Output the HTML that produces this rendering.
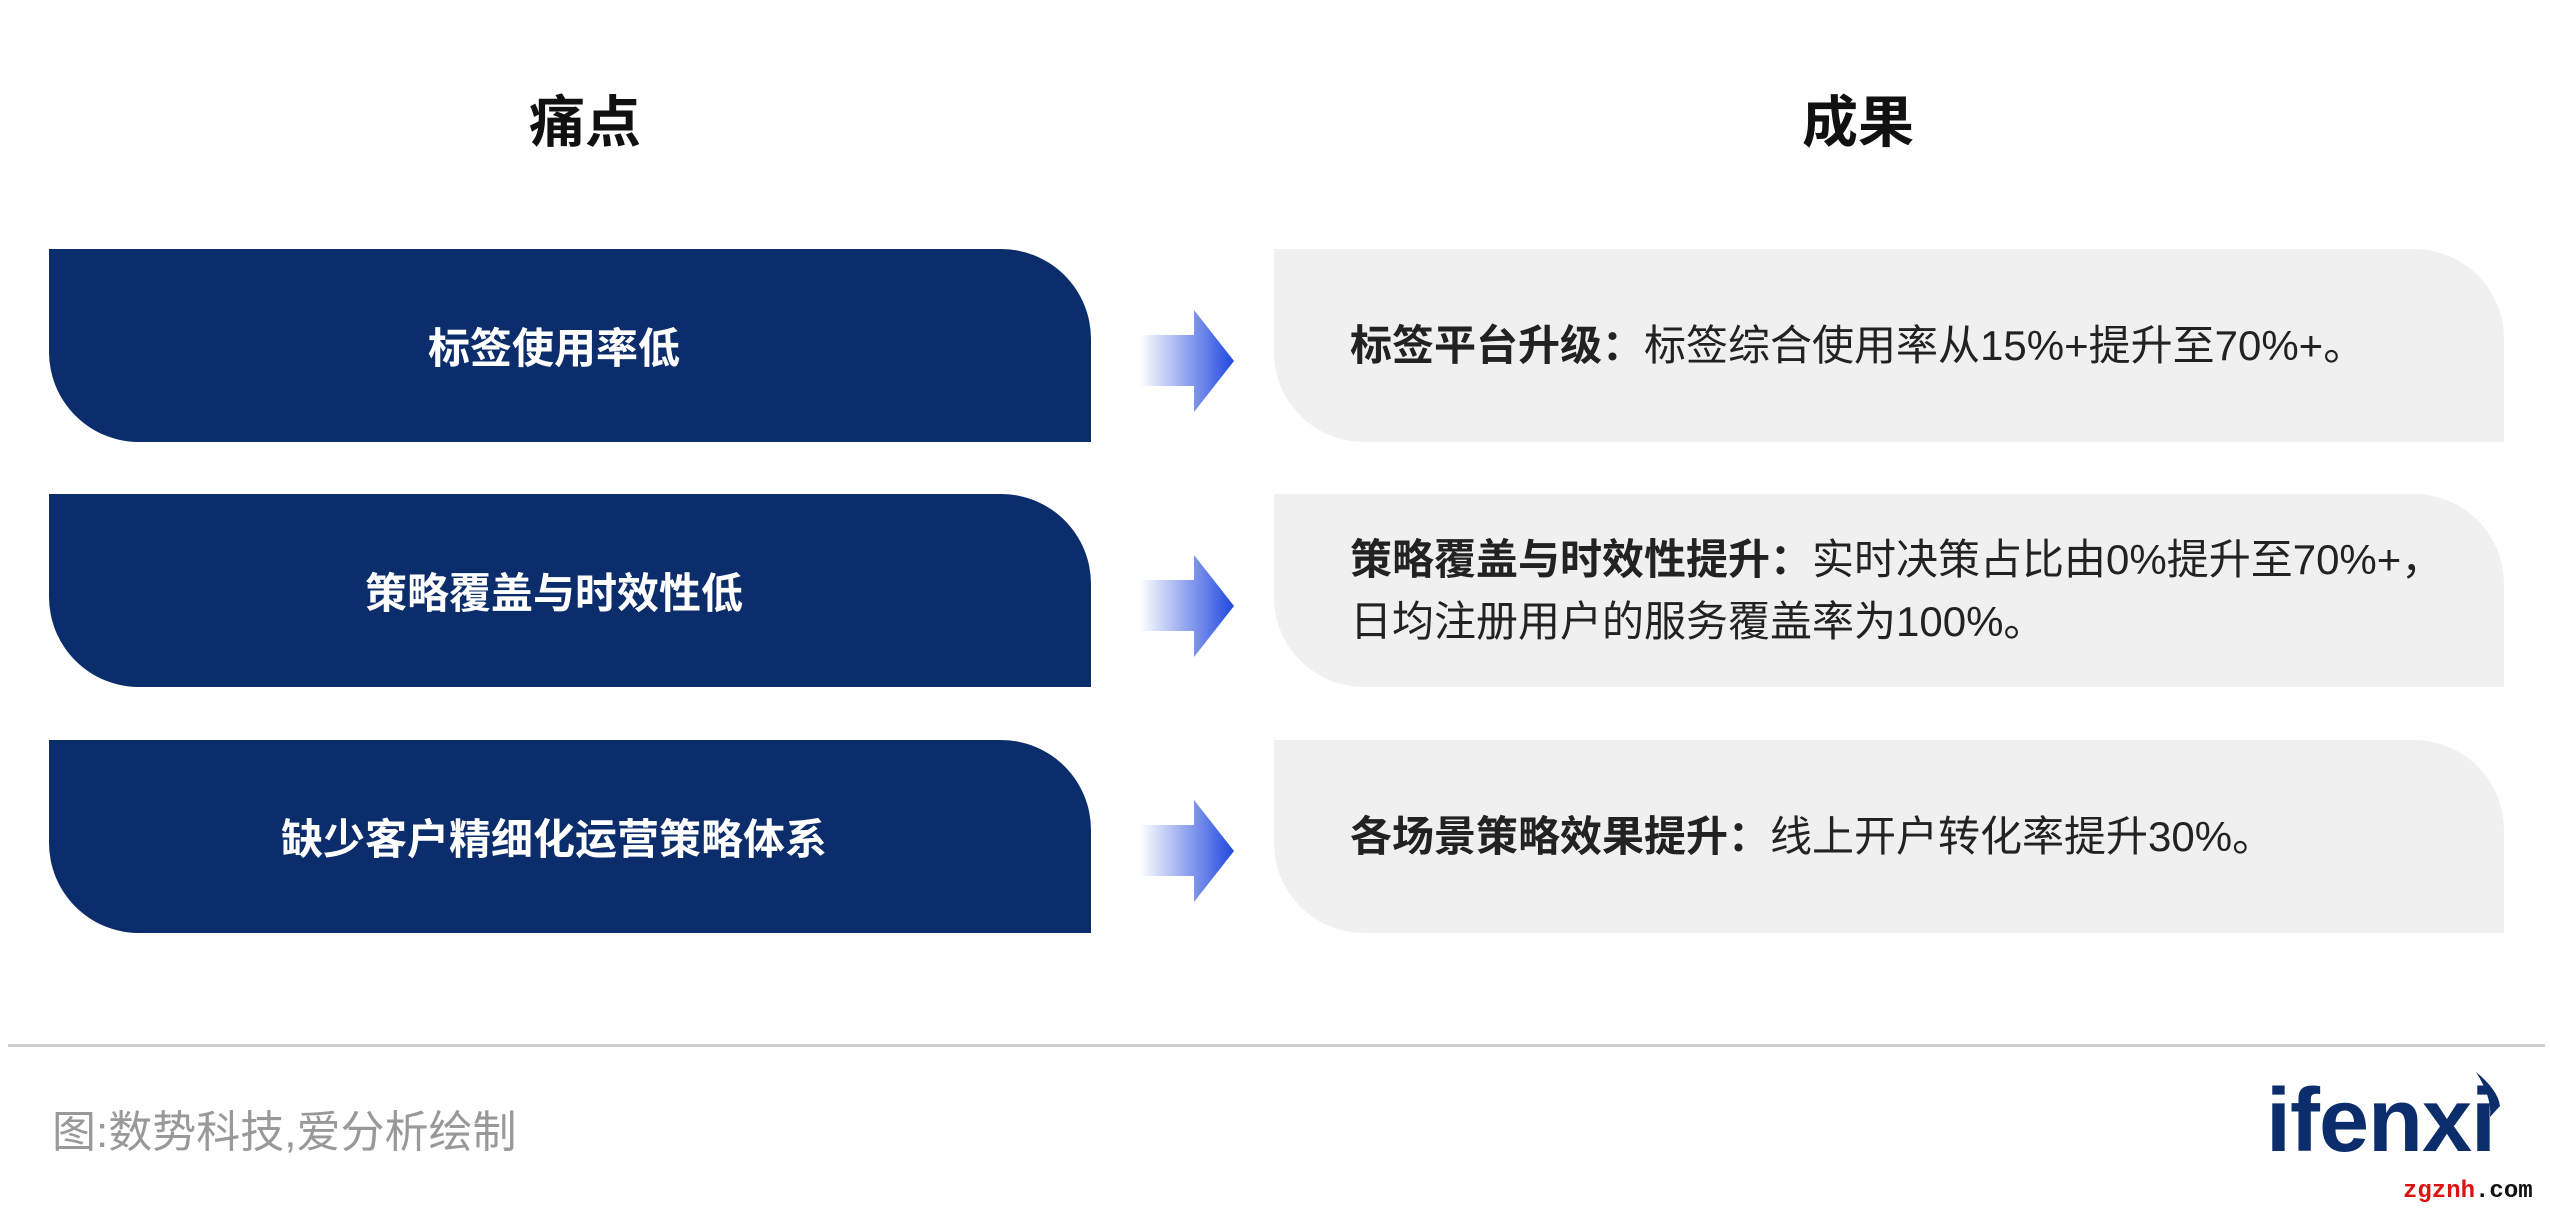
<!DOCTYPE html>
<html><head><meta charset="utf-8"><style>
*{margin:0;padding:0;box-sizing:border-box}
body{width:2550px;height:1215px;background:#fff;position:relative;overflow:hidden;font-family:"Liberation Sans","Noto Sans CJK SC",sans-serif}
.h{position:absolute;top:78px;font-size:56px;font-weight:bold;color:#111;width:400px;text-align:center}
.l{position:absolute;left:49px;width:1042px;height:193px;background:#0c2d6b;border-radius:0 90px 0 90px;color:#fff;font-weight:bold;font-size:42px;display:flex;align-items:center;justify-content:center;padding-right:32px}
.r{position:absolute;left:1274px;width:1230px;height:193px;background:#f0f0f0;border-radius:0 90px 0 90px;color:#222;font-size:42px;display:flex;align-items:center;padding-left:76px;line-height:62px}
.r b{font-weight:bold}
.a{position:absolute;left:1140px;width:94px;height:102px}
</style></head><body>
<div class="h" style="left:385px">痛点</div>
<div class="h" style="left:1658px">成果</div>

<div class="l" style="top:249px">标签使用率低</div>
<div class="l" style="top:494px">策略覆盖与时效性低</div>
<div class="l" style="top:740px">缺少客户精细化运营策略体系</div>

<div class="r" style="top:249px"><div><b>标签平台升级：</b>标签综合使用率从15%+提升至70%+。</div></div>
<div class="r" style="top:494px"><div><b>策略覆盖与时效性提升：</b>实时决策占比由0%提升至70%+，<br>日均注册用户的服务覆盖率为100%。</div></div>
<div class="r" style="top:740px"><div><b>各场景策略效果提升：</b>线上开户转化率提升30%。</div></div>

<svg width="0" height="0" style="position:absolute"><defs><linearGradient id="g" x1="0" x2="1" y1="0" y2="0"><stop offset="0" stop-color="#fff"/><stop offset="1" stop-color="#2148df"/></linearGradient></defs></svg>
<svg class="a" style="top:310px" viewBox="0 0 94 102"><polygon points="0,25 54,25 54,0 94,51 54,102 54,76 0,76" fill="url(#g)"/></svg>
<svg class="a" style="top:555px" viewBox="0 0 94 102"><polygon points="0,25 54,25 54,0 94,51 54,102 54,76 0,76" fill="url(#g)"/></svg>
<svg class="a" style="top:800px" viewBox="0 0 94 102"><polygon points="0,25 54,25 54,0 94,51 54,102 54,76 0,76" fill="url(#g)"/></svg>

<div style="position:absolute;left:8px;top:1044px;width:2537px;height:3px;background:#cfcfcf"></div>
<div style="position:absolute;left:52px;top:1096px;font-size:44px;color:#999">图:数势科技,爱分析绘制</div>
<div style="position:absolute;left:2266px;top:1070px;font-size:90px;font-weight:bold;color:#0c2d6b;letter-spacing:-1px">ifenxi</div>
<svg style="position:absolute;left:2468px;top:1072px" width="40" height="45" viewBox="0 0 40 45"><path d="M8,0 Q30,18 32,34 L22,45 Q24,25 8,0Z" fill="#0c2d6b"/></svg>
<div style="position:absolute;left:2403px;top:1178px;font-size:24px;font-weight:bold;font-family:'Liberation Mono',monospace"><span style="color:#d11">zgznh</span><span style="color:#111">.com</span></div>
</body></html>
